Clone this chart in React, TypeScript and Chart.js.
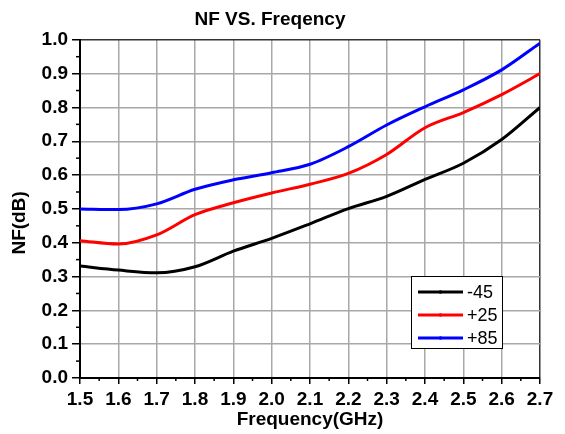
import { useEffect, useRef } from 'react';
import { Chart, registerables } from 'chart.js';

Chart.register(...registerables);

const freqGHz = [1.5, 1.6, 1.7, 1.8, 1.9, 2.0, 2.1, 2.2, 2.3, 2.4, 2.5, 2.6, 2.7];
const nfMinus45 = [0.331, 0.319, 0.311, 0.329, 0.375, 0.413, 0.456, 0.501, 0.537, 0.587, 0.635, 0.705, 0.8];
const nfPlus25 = [0.406, 0.396, 0.423, 0.483, 0.518, 0.547, 0.573, 0.605, 0.661, 0.74, 0.785, 0.838, 0.9];
const nfPlus85 = [0.5, 0.498, 0.515, 0.558, 0.586, 0.607, 0.632, 0.684, 0.748, 0.802, 0.852, 0.911, 0.99];
const seriesLabels = ['-45', '+25', '+85'];
const seriesColors = ['#000000', '#ff0000', '#0000ff'];

const FONT = '"Liberation Sans", Arial, sans-serif';
const isMajor = (v: number) => Math.round(v * 100) % 10 === 0;

const minorTicksPlugin = {
  id: 'minorTicks',
  afterDraw(chart: any) {
    const ctx = chart.ctx;
    const xs = chart.scales.x;
    const ys = chart.scales.y;
    ctx.save();
    ctx.strokeStyle = '#000';
    ctx.lineWidth = 1.5;
    xs.ticks.forEach((t: any) => {
      if (isMajor(t.value)) return;
      const px = xs.getPixelForValue(t.value);
      ctx.beginPath();
      ctx.moveTo(px, xs.top);
      ctx.lineTo(px, xs.top + 3);
      ctx.stroke();
    });
    ys.ticks.forEach((t: any) => {
      if (isMajor(t.value)) return;
      const py = ys.getPixelForValue(t.value);
      ctx.beginPath();
      ctx.moveTo(ys.right, py);
      ctx.lineTo(ys.right - 4, py);
      ctx.stroke();
    });
    ctx.restore();
  },
};

const yTitlePlugin = {
  id: 'yTitle',
  afterDraw(chart: any) {
    const ctx = chart.ctx;
    const a = chart.chartArea;
    ctx.save();
    ctx.translate(20, (a.top + a.bottom) / 2 + 14);
    ctx.rotate(-Math.PI / 2);
    ctx.font = `bold 19px ${FONT}`;
    ctx.fillStyle = '#000';
    ctx.textAlign = 'center';
    ctx.textBaseline = 'middle';
    ctx.fillText('NF(dB)', 0, 0);
    ctx.restore();
  },
};

const legendPlugin = {
  id: 'innerLegend',
  afterDraw(chart: any) {
    const ctx = chart.ctx;
    const a = chart.chartArea;
    const left = a.right - 129;
    const top = a.bottom - 102;
    const w = 91;
    const h = 72;
    ctx.save();
    ctx.fillStyle = '#fff';
    ctx.fillRect(left, top, w, h);
    ctx.strokeStyle = '#000';
    ctx.lineWidth = 1;
    ctx.strokeRect(left + 0.5, top + 0.5, w, h);
    const rows = [16, 39, 62];
    chart.data.datasets.forEach((ds: any, i: number) => {
      const y = top + rows[i];
      ctx.strokeStyle = ds.borderColor;
      ctx.lineWidth = 3;
      ctx.beginPath();
      ctx.moveTo(left + 7, y);
      ctx.lineTo(left + 52, y);
      ctx.stroke();
      ctx.fillStyle = ds.borderColor;
      ctx.beginPath();
      ctx.arc(left + 29.5, y, 1.8, 0, Math.PI * 2);
      ctx.fill();
      ctx.fillStyle = '#000';
      ctx.font = `18px ${FONT}`;
      ctx.textAlign = 'left';
      ctx.textBaseline = 'middle';
      ctx.fillText(ds.label, left + 56, y + 1);
    });
    ctx.restore();
  },
};

export default function App() {
  const ref = useRef<HTMLCanvasElement>(null);
  useEffect(() => {
    if (!ref.current) return;
    const series = [nfMinus45, nfPlus25, nfPlus85];
    const chart = new Chart(ref.current, {
      type: 'line',
      data: {
        datasets: series.map((vals, i) => ({
          label: seriesLabels[i],
          data: freqGHz.map((f, j) => ({ x: f, y: vals[j] })),
          borderColor: seriesColors[i],
          backgroundColor: seriesColors[i],
          borderWidth: 3,
          pointRadius: 0,
          cubicInterpolationMode: 'monotone' as const,
          fill: false,
        })),
      },
      options: {
        responsive: false,
        animation: false,
        layout: { padding: { left: 0, right: 25, top: 0, bottom: 0 } },
        plugins: {
          legend: { display: false },
          tooltip: { enabled: false },
          title: {
            display: true,
            text: 'NF VS. Freqency',
            color: '#000',
            font: { family: FONT, size: 19, weight: 'bold' },
            padding: { top: 8, bottom: 9 },
          },
        },
        scales: {
          x: {
            type: 'linear',
            min: 1.5,
            max: 2.7,
            afterFit: (s: any) => { s.height = 56; },
            ticks: {
              stepSize: 0.05,
              autoSkip: false,
              maxRotation: 0,
              padding: 4,
              color: '#000',
              font: { family: FONT, size: 19, weight: 'bold' },
              callback: (v: any) => (isMajor(Number(v)) ? Number(v).toFixed(1) : ''),
            },
            grid: {
              color: (c: any) => {
                const v = c.tick ? c.tick.value : 0;
                if (Math.abs(v - 2.7) < 1e-6) return '#333';
                return isMajor(v) ? '#a8a8a8' : 'transparent';
              },
              lineWidth: 1.5,
              tickLength: 6,
              tickColor: (c: any) => (c.tick && isMajor(c.tick.value) ? '#000' : 'transparent'),
              tickWidth: 1.5,
            },
            border: { color: '#000', width: 2 },
            title: {
              display: true,
              text: 'Frequency(GHz)',
              color: '#000',
              font: { family: FONT, size: 19, weight: 'bold' },
              padding: { top: 0, bottom: 3 },
            },
          },
          y: {
            type: 'linear',
            min: 0,
            max: 1,
            afterFit: (s: any) => { s.width = 80; },
            ticks: {
              stepSize: 0.05,
              autoSkip: false,
              padding: 4,
              color: '#000',
              font: { family: FONT, size: 19, weight: 'bold' },
              callback: (v: any) => (isMajor(Number(v)) ? Number(v).toFixed(1) : ''),
            },
            grid: {
              color: (c: any) => {
                const v = c.tick ? c.tick.value : 0;
                if (Math.abs(v - 1) < 1e-6) return '#333';
                return isMajor(v) ? '#a8a8a8' : 'transparent';
              },
              lineWidth: 1.5,
              tickLength: 8,
              tickColor: (c: any) => (c.tick && isMajor(c.tick.value) ? '#000' : 'transparent'),
              tickWidth: 1.5,
            },
            border: { color: '#000', width: 2 },
          },
        },
      },
      plugins: [minorTicksPlugin, yTitlePlugin, legendPlugin],
    } as any);
    return () => chart.destroy();
  }, []);
  return (
    <div style={{ position: 'absolute', left: 0, top: 0, width: 565, height: 434, background: '#fff' }}>
      <canvas ref={ref} width={565} height={434} />
    </div>
  );
}
